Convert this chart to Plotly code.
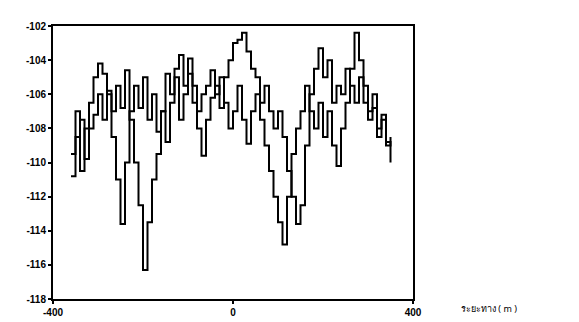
import plotly.graph_objects as go

x_vals = list(range(-360, 360, 10))

series_a = [
    -109.5, -107.0, -110.5, -108.0, -106.5, -105.0, -104.2, -104.8, -106.0, -108.5,
    -111.0, -113.6, -110.0, -107.0, -105.5, -106.8, -105.0, -107.5, -106.0, -108.2,
    -107.0, -108.8, -106.5, -104.5, -103.7, -105.5, -104.8, -106.5, -108.0, -109.6,
    -107.5, -106.2, -105.5, -106.8, -105.0, -104.0, -103.0, -102.8, -102.4, -103.5,
    -104.5, -105.0, -106.5, -105.5, -107.0, -108.0, -107.0, -108.5, -110.5, -112.0,
    -113.6, -112.5, -109.0, -106.0, -104.5, -103.3, -105.0, -104.0, -106.5, -105.5,
    -106.0, -104.5, -105.5, -106.5, -105.0, -106.5, -107.5, -106.8, -108.0, -107.5,
    -108.8, -110.0,
]

series_b = [
    -110.8, -108.5, -107.5, -109.8, -108.0, -107.2, -106.0, -107.5, -105.8, -107.0,
    -105.5, -106.8, -104.6, -107.5, -110.0, -112.5, -116.3, -113.5, -111.0, -109.5,
    -107.0, -104.8, -106.0, -105.0, -107.5, -106.0, -103.9, -105.5, -107.0, -106.0,
    -105.5, -104.6, -106.0, -105.0, -106.5, -108.0, -107.0, -105.5, -107.5, -108.9,
    -107.0, -106.0, -107.5, -109.0, -110.5, -112.0, -113.5, -114.8, -112.0, -109.5,
    -108.0, -107.0, -105.5, -107.0, -108.0, -106.5, -108.5, -107.0, -109.0, -110.2,
    -108.0, -106.5, -104.5, -102.4, -104.0, -105.5, -107.0, -106.0, -108.5, -107.2,
    -109.0, -108.5,
]

x_ticks = [-400, 0, 400]
x_tick_text = ["-400", "0", "400"]
y_ticks = [-118, -116, -114, -112, -110, -108, -106, -104, -102]
y_tick_text = ["-118", "-116", "-114", "-112", "-110", "-108", "-106", "-104", "-102"]
x_title = "ระยะทาง ( m )"

fig = go.Figure()
for s in (series_a, series_b):
    fig.add_trace(go.Scatter(
        x=x_vals, y=s, mode="lines", line=dict(color="black", width=2, shape="hv"),
        showlegend=False, hoverinfo="skip",
    ))

axis_common = dict(
    showline=True, linecolor="black", linewidth=2, mirror=True,
    showgrid=False, zeroline=False, ticks="outside", ticklen=3,
    tickcolor="black", tickwidth=2,
    tickfont=dict(family="Liberation Sans", size=10, color="black", weight="bold"),
)

fig.update_layout(
    width=579, height=322,
    margin=dict(l=45, r=174, t=18, b=17),
    paper_bgcolor="white", plot_bgcolor="white",
    xaxis=dict(range=[-400, 400], tickvals=x_ticks, ticktext=x_tick_text, **axis_common),
    yaxis=dict(range=[-118, -102], tickvals=y_ticks, ticktext=y_tick_text, **axis_common),
    annotations=[dict(
        text=x_title, xref="paper", yref="paper", x=1.21, y=-0.005,
        xanchor="center", yanchor="top", showarrow=False,
        font=dict(family="Noto Sans, sans-serif", size=9, color="black"),
    )],
)

fig.write_html("out.html")
